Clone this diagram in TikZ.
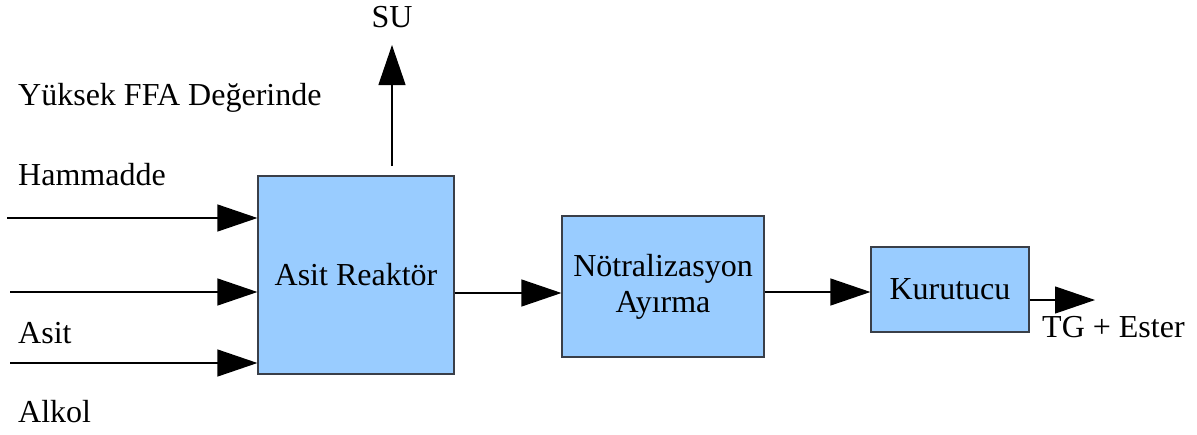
\documentclass[tikz,border=0pt]{standalone}
\usepackage{fontspec}
\setmainfont{Liberation Serif}
\newfontfamily\timesface{Liberation Serif}
\usetikzlibrary{arrows.meta}
\definecolor{boxfill}{HTML}{99CCFF}
\definecolor{boxline}{HTML}{3A3F48}
\tikzset{
  unit/.style={draw=boxline, fill=boxfill, line width=1.2pt, inner sep=0pt,
    align=center, font=\timesface\fontsize{32}{36}\selectfont},
  flow/.style={line width=1.2pt, -{Triangle[length=40pt,width=27pt]}},
  lbl/.style={inner sep=0pt, anchor=base west, font=\timesface\fontsize{32}{36}\selectfont}
}
\begin{document}
\begin{tikzpicture}[x=1pt,y=-1pt]
  \useasboundingbox (0,0) rectangle (1197,434);

  % process units
  \node[unit, minimum width=196pt, minimum height=198pt] (reak) at (356,275) {Asit Reaktör};
  \node[unit, minimum width=202pt, minimum height=141pt] (notr) at (663,286.5) {Nötralizasyon\\Ayırma};
  \node[unit, minimum width=158pt, minimum height=85pt] (kuru) at (950,289.5) {Kurutucu};

  % stream labels
  \node[lbl] (ffa) at (18,105) {Yüksek FFA Değerinde};
  \node[lbl] (ham) at (18,185) {Hammadde};
  \node[lbl] (asit) at (18,343) {Asit};
  \node[lbl] (alk) at (18,422) {Alkol};
  \node[lbl] (tg) at (1042,337) {TG + Ester};
  \node[lbl, anchor=base] (su) at (392,27) {SU};

  % feed inlets
  \coordinate (f1) at (7,218);
  \coordinate (f2) at (10,292);
  \coordinate (f3) at (10,363);
  \draw[flow] (f1) -- (reak.west |- f1);
  \draw[flow] (f2) -- (reak.west |- f2);
  \draw[flow] (f3) -- (reak.west |- f3);

  % water off the top of the reactor
  \coordinate (w0) at (392,166);
  \coordinate (w1) at (392,45);
  \draw[flow] (w0) -- (w1);

  % main product line
  \coordinate (m1) at (0,293);
  \coordinate (m2) at (0,292);
  \coordinate (m3) at (0,300);
  \coordinate (out) at (1095,300);
  \draw[flow] (reak.east |- m1) -- (notr.west |- m1);
  \draw[flow] (notr.east |- m2) -- (kuru.west |- m2);
  \draw[flow] (kuru.east |- m3) -- (out);
\end{tikzpicture}
\end{document}
